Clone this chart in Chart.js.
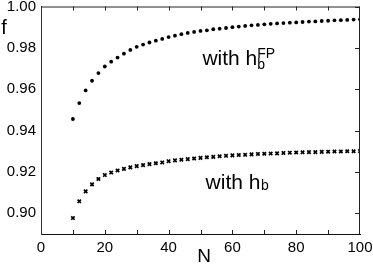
<!DOCTYPE html>
<html>
<head>
<meta charset="utf-8">
<script src="https://cdn.jsdelivr.net/npm/chart.js@4/dist/chart.umd.min.js"></script>
<style>
  html, body { margin: 0; padding: 0; background: #fff; }
  #c { display: block; }
</style>
</head>
<body>
<canvas id="c" width="373" height="273"></canvas>
<script>
// ---- data ----
const nValues = [10,12,14,16,18,20,22,24,26,28,30,32,34,36,38,40,42,44,46,48,50,52,54,56,58,60,62,64,66,68,70,72,74,76,78,80,82,84,86,88,90,92,94,96,98,100];
const fWithHbFP = [0.9456,0.9533,0.9594,0.9641,0.9678,0.9710,0.9733,0.9753,0.9772,0.9790,0.9805,0.9816,0.9826,0.9835,0.9843,0.9852,0.9859,0.9866,0.9872,0.9877,0.9882,0.9885,0.9890,0.9893,0.9896,0.9900,0.9903,0.9906,0.9909,0.9911,0.9914,0.9916,0.9918,0.9920,0.9922,0.9923,0.9925,0.9927,0.9928,0.9930,0.9931,0.9933,0.9934,0.9935,0.9937,0.9938];
const fWithHb = [0.8977,0.9058,0.9106,0.9140,0.9166,0.9185,0.9197,0.9207,0.9215,0.9222,0.9228,0.9233,0.9238,0.9242,0.9246,0.9252,0.9256,0.9259,0.9262,0.9265,0.9268,0.9271,0.9273,0.9276,0.9278,0.9280,0.9282,0.9283,0.9285,0.9287,0.9288,0.9289,0.9290,0.9292,0.9293,0.9294,0.9295,0.9296,0.9296,0.9297,0.9298,0.9299,0.9299,0.9300,0.9300,0.9301];
const xTickLabels = [0,20,40,60,80,100];
const xMinorTicks = [10,20,30,40,50,60,70,80,90];
const yTickLabels = [0.90,0.92,0.94,0.96,0.98,1.00];
const xAxisTitle = 'N';
const yAxisTitle = 'f';
// annotation anchors in data units
const labelFP = { x: 50.6, y: 0.9715 };
const labelB = { x: 51.6, y: 0.9116 };

const FONT = '"Liberation Sans", Arial, sans-serif';

const frameAndText = {
  id: 'frameAndText',
  afterDraw(chart) {
    const ctx = chart.ctx;
    const xs = chart.scales.x, ys = chart.scales.y;
    const a = chart.chartArea;
    ctx.save();
    ctx.strokeStyle = '#222';
    ctx.lineWidth = 1;
    // top and right frame
    ctx.beginPath();
    ctx.moveTo(a.left, a.top + 0.5); ctx.lineTo(a.right, a.top + 0.5);
    ctx.moveTo(a.right - 0.5, a.top); ctx.lineTo(a.right - 0.5, a.bottom);
    ctx.stroke();
    // inward ticks on bottom and top
    ctx.beginPath();
    xMinorTicks.forEach(v => {
      const px = Math.round(xs.getPixelForValue(v)) + 0.5;
      ctx.moveTo(px, a.bottom); ctx.lineTo(px, a.bottom - 4);
      ctx.moveTo(px, a.top); ctx.lineTo(px, a.top + 4);
    });
    // inward ticks on right
    yTickLabels.forEach(v => {
      const py = Math.round(ys.getPixelForValue(v)) + 0.5;
      ctx.moveTo(a.right, py); ctx.lineTo(a.right - 5, py);
    });
    ctx.stroke();

    ctx.fillStyle = '#000';
    ctx.textBaseline = 'alphabetic';
    ctx.textAlign = 'left';
    // label 1: with h_b^FP
    let x0 = xs.getPixelForValue(labelFP.x), y0 = ys.getPixelForValue(labelFP.y);
    ctx.font = '21px ' + FONT;
    let t = 'with h';
    ctx.fillText(t, x0, y0);
    let w = ctx.measureText(t).width;
    ctx.font = '14px ' + FONT;
    ctx.fillText('b', x0 + w, y0 + 4);
    ctx.fillText('FP', x0 + w, y0 - 7);
    // label 2: with h_b
    x0 = xs.getPixelForValue(labelB.x); y0 = ys.getPixelForValue(labelB.y);
    ctx.font = '21px ' + FONT;
    ctx.fillText(t, x0, y0);
    w = ctx.measureText(t).width;
    ctx.font = '14px ' + FONT;
    ctx.fillText('b', x0 + w + 0.5, y0 + 1);
    // axis titles
    ctx.font = '20px ' + FONT;
    ctx.textAlign = 'center';
    ctx.fillText(yAxisTitle, 4, 34);
    ctx.font = '19px ' + FONT;
    ctx.fillText(xAxisTitle, 204, 262);
    ctx.restore();
  }
};

new Chart(document.getElementById('c'), {
  type: 'scatter',
  data: {
    datasets: [
      {
        label: 'with hb FP',
        data: nValues.map((n, i) => ({ x: n, y: fWithHbFP[i] })),
        pointStyle: 'circle',
        pointRadius: 1.9,
        pointBackgroundColor: '#000',
        pointBorderWidth: 0,
        showLine: false
      },
      {
        label: 'with hb',
        data: nValues.map((n, i) => ({ x: n, y: fWithHb[i] })),
        pointStyle: 'crossRot',
        pointRadius: 2.4,
        pointBorderColor: '#000',
        pointBorderWidth: 1.7,
        showLine: false
      }
    ]
  },
  options: {
    responsive: false,
    animation: false,
    devicePixelRatio: 1,
    layout: { padding: { top: 6.5, right: 13, left: 0, bottom: 0 } },
    plugins: { legend: { display: false }, tooltip: { enabled: false } },
    scales: {
      x: {
        type: 'linear', min: 0, max: 100,
        afterBuildTicks: s => { s.ticks = xTickLabels.map(v => ({ value: v })); },
        afterFit: s => { s.height = 39; s.paddingLeft = 0; s.paddingRight = 0; },
        grid: { display: false, drawTicks: false },
        border: { display: true, color: '#111', width: 1 },
        ticks: { color: '#000', padding: 5, maxRotation: 0, font: { family: FONT, size: 15 } }
      },
      y: {
        type: 'linear', min: 0.89, max: 1.00,
        afterBuildTicks: s => { s.ticks = yTickLabels.map(v => ({ value: v })); },
        afterFit: s => { s.width = 41; s.paddingTop = 0; s.paddingBottom = 0; },
        grid: { display: false, drawTicks: false },
        border: { display: true, color: '#333', width: 1 },
        ticks: { color: '#000', padding: 5, font: { family: FONT, size: 15 }, callback: v => Number(v).toFixed(2) }
      }
    }
  },
  plugins: [frameAndText]
});
</script>
</body>
</html>
